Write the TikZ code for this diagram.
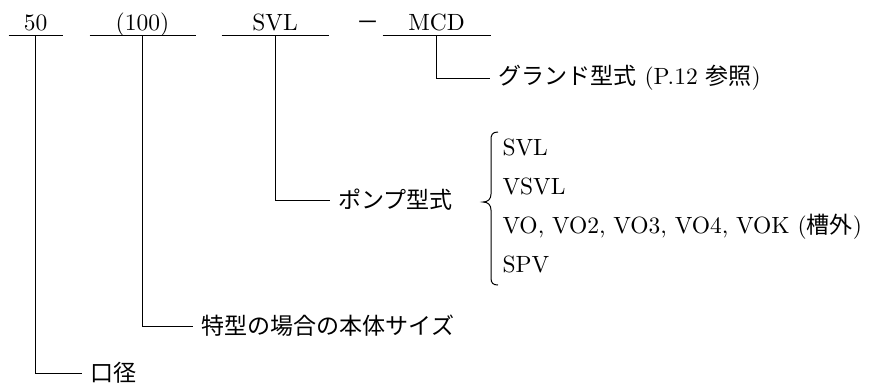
\documentclass[tikz,border=0pt]{standalone}
\usepackage{fontspec}
\setmainfont{lmroman10-regular.otf}
\newfontfamily\jp{Noto Sans CJK JP}[Scale=0.98]
\usetikzlibrary{calc}
\tikzset{
  code/.style={anchor=base, inner sep=0pt, text depth=5pt},
  lbl/.style={anchor=west, inner ysep=0pt, inner xsep=8pt},
  item/.style={anchor=base west, inner sep=0pt},
}

\begin{document}
\begin{tikzpicture}[x=1pt, y=-1pt, line width=1pt,
  font=\fontsize{23.5}{28}\selectfont]
			%%%%% START %%%%%
			\useasboundingbox (0, 0) rectangle (872, 389);

			% model code
			\node[code, minimum width=53pt] (c50) at (35.5, 30) {50};
			\node[code, minimum width=105pt] (c100) at (142.5, 30) {(100)};
			\node[code, minimum width=106pt] (csvl) at (275, 30) {SVL};
			\node[code] (dash) at (368.5, 30) {\jp －};
			\node[code, minimum width=107pt] (cmcd) at (436.5, 30) {MCD};

			\draw (c50.south west) -- (c50.south east);
			\draw (c100.south west) -- (c100.south east);
			\draw (csvl.south west) -- (csvl.south east);
			\draw (cmcd.south west) -- (cmcd.south east);

			% meanings
			\node[lbl] (grand) at (490, 78) {{\jp グランド型式} (P.12 {\jp 参照})};
			\node[lbl] (pump) at (330, 200) {\jp ポンプ型式};
			\node[lbl] (tokkei) at (193, 326) {\jp 特型の場合の本体サイズ};
			\node[lbl] (kokei) at (82, 373) {\jp 口径};

			\draw (cmcd.south) |- (grand.west);
			\draw (csvl.south) |- (pump.west);
			\draw (c100.south) |- (tokkei.west);
			\draw (c50.south) |- (kokei.west);

			% pump types
			\coordinate (tip) at (483, 202);
			\draw ($(tip)+(15,-70)$) .. controls ($(tip)+(9,-70)$) and ($(tip)+(8,-67)$) .. ($(tip)+(8,-62)$)
				-- ($(tip)+(8,-8)$) .. controls ($(tip)+(8,-3)$) and ($(tip)+(5,0)$) .. (tip)
				.. controls ($(tip)+(5,0)$) and ($(tip)+(8,3)$) .. ($(tip)+(8,8)$)
				-- ($(tip)+(8,76)$) .. controls ($(tip)+(8,81)$) and ($(tip)+(10,83)$) .. ($(tip)+(15,83)$);

			\node[item] (t1) at (502, 155) {SVL};
			\node[item] (t2) at (502, 194) {VSVL};
			\node[item] (t3) at (502, 233) {VO, VO2, VO3, VO4, VOK\ ({\jp 槽外})};
			\node[item] (t4) at (502, 272) {SPV};

			%%%%% END %%%%%
\end{tikzpicture}
\end{document}
